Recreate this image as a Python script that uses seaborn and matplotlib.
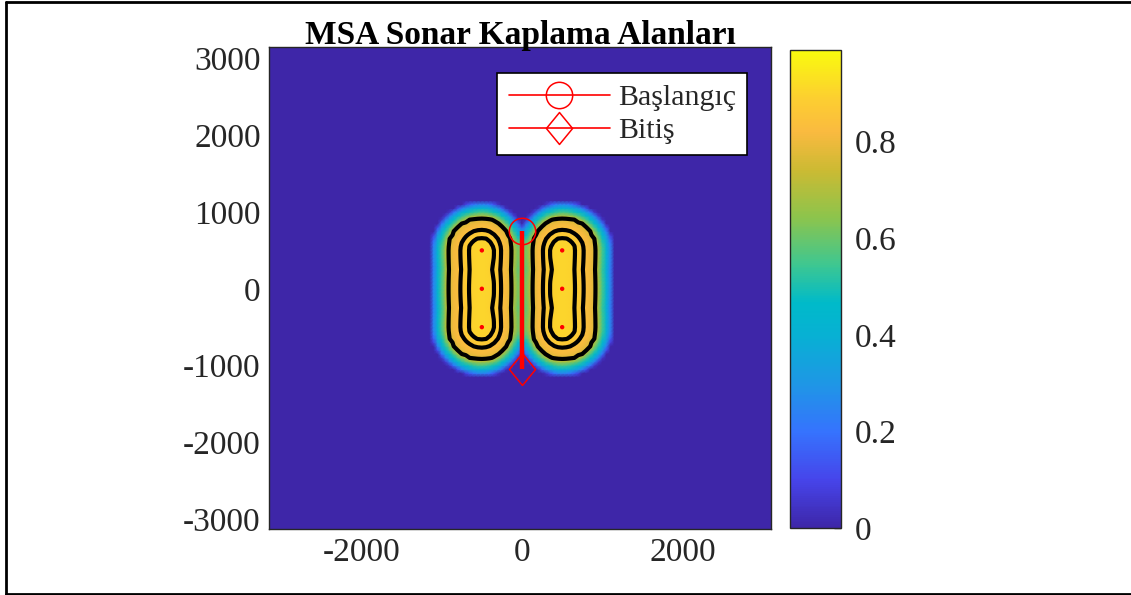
import numpy as np
import matplotlib
matplotlib.use("Agg")
import matplotlib.pyplot as plt
import seaborn as sns
from matplotlib.colors import LinearSegmentedColormap, Normalize
from matplotlib.lines import Line2D
from matplotlib.path import Path

# ---------------- data ----------------
sensor_x = [-500, -500, -500, 500, 500, 500]
sensor_y = [500, 0, -500, 500, 0, -500]
range_m = [0, 100, 170, 270, 350, 430, 470, 510, 550, 590, 620, 650]
detect_prob = [0.905, 0.90, 0.89, 0.85, 0.81, 0.75, 0.64, 0.52, 0.42, 0.30, 0.15, 0.0]
inner_side_scale = 1.12
path_x = [0, 0]
path_y = [750, -1050]
contour_levels = [0.75, 0.85, 0.89]
x_ticks = [-2000, 0, 2000]
y_ticks = [-3000, -2000, -1000, 0, 1000, 2000, 3000]
cbar_ticks = [0, 0.2, 0.4, 0.6, 0.8]
title_text = "MSA Sonar Kaplama Alanları"
legend_labels = ["Başlangıç", "Bitiş"]

# parula-like colormap anchors
parula_pos = [0.00, 0.10, 0.20, 0.30, 0.40, 0.47, 0.55, 0.65, 0.75, 0.83, 0.90, 1.00]
parula_rgb = [(0.2422, 0.1504, 0.6603), (0.2760, 0.2700, 0.9200), (0.2100, 0.4500, 0.9950),
              (0.1200, 0.5900, 0.9000), (0.0300, 0.6900, 0.8300), (0.0000, 0.7300, 0.7900),
              (0.2400, 0.7800, 0.5700), (0.5500, 0.7700, 0.3000), (0.8000, 0.7300, 0.2000),
              (0.9800, 0.7300, 0.2500), (0.9900, 0.8100, 0.1900), (0.9763, 0.9831, 0.0538)]
parula = LinearSegmentedColormap.from_list("parula", list(zip(parula_pos, parula_rgb)))

# ---------------- coverage field ----------------
gx = np.arange(-3200, 3201, 50.0)
gy = np.arange(-3200, 3201, 50.0)
X, Y = np.meshgrid(gx, gy)
sx = np.array(sensor_x, float)
sy = np.array(sensor_y, float)
miss = np.ones_like(X)
for cx in np.unique(sx):
    ys = sy[sx == cx]
    y0, y1 = ys.min(), ys.max()
    dx = X - cx
    dx = np.where(dx * cx < 0, dx * inner_side_scale, dx)
    dseg = np.hypot(dx, Y - np.clip(Y, y0, y1))
    dsen = np.min([np.hypot(dx, Y - yy) for yy in ys], axis=0)
    deff = 0.9 * dseg + 0.1 * dsen
    p = np.interp(deff, range_m, detect_prob)
    miss *= (1 - p)
Z = 1 - miss

# ---------------- figure ----------------
sns.set_theme(style="white")
plt.rcParams["font.family"] = ["Liberation Serif", "DejaVu Serif"]
W, H = 1131, 595
fig = plt.figure(figsize=(W / 100, H / 100), dpi=100)
fig.patch.set_facecolor("white")

ax = fig.add_axes([269 / W, 1 - 529 / H, (771 - 269) / W, (529 - 47) / H])
norm = Normalize(vmin=0, vmax=0.99)
mesh = ax.pcolormesh(X, Y, Z, cmap=parula, norm=norm, shading="gouraud", rasterized=True)
ax.contour(X, Y, Z, levels=contour_levels, colors="black", linewidths=3.0)

sns.scatterplot(x=sensor_x, y=sensor_y, ax=ax, color="red", s=10, edgecolor="none", zorder=5)
ax.plot(path_x, path_y, color="red", lw=3.2, zorder=6, solid_capstyle="butt")

diamond = Path([(0, 1), (0.82, 0), (0, -1), (-0.82, 0), (0, 1)],
               [Path.MOVETO, Path.LINETO, Path.LINETO, Path.LINETO, Path.CLOSEPOLY])
ax.plot([path_x[0]], [path_y[0]], color="red", lw=1.2, marker="o", markersize=19,
        markerfacecolor="none", markeredgewidth=1.1, label=legend_labels[0], zorder=7)
ax.plot([path_x[-1]], [path_y[-1]], color="red", lw=1.2, marker=diamond, markersize=23,
        markerfacecolor="none", markeredgewidth=1.1, label=legend_labels[1], zorder=7)

ax.set_xlim(-3150, 3100)
ax.set_ylim(-3130, 3150)
ax.set_xticks(x_ticks)
ax.set_yticks(y_ticks)
ax.set_xticklabels([str(v) for v in x_ticks])
ax.set_yticklabels([str(v) for v in y_ticks])
ax.tick_params(direction="in", length=5, width=1, colors="#262626", labelsize=24,
               labelcolor="#262626", top=True, right=True, pad=6)
for s in ax.spines.values():
    s.set_visible(True)
    s.set_color("#262626")
    s.set_linewidth(1.0)
ax.set_title(title_text, fontsize=24, fontweight="bold", color="black", pad=2)

leg = ax.legend(loc="upper right", bbox_to_anchor=(1 - 24 / 502, 1 - 26 / 482),
                borderaxespad=0, fontsize=21.5, frameon=True, fancybox=False,
                framealpha=1, edgecolor="black", handlelength=3.4, handletextpad=0.25,
                labelspacing=0.2, borderpad=0.38)
leg.get_frame().set_linewidth(1.2)

cax = fig.add_axes([790 / W, 1 - 528 / H, (841 - 790) / W, (528 - 50) / H])
cb = fig.colorbar(mesh, cax=cax, ticks=cbar_ticks)
cb.ax.set_yticklabels(["0", "0.2", "0.4", "0.6", "0.8"])
cb.ax.tick_params(direction="in", length=5, width=1, colors="#262626", labelsize=24,
                  labelcolor="#262626", pad=10)
cb.outline.set_edgecolor("#262626")
cb.outline.set_linewidth(1.0)

# figure border (left, top, bottom)
lw_b = 2.0
fig.add_artist(Line2D([5.5 / W, 5.5 / W], [1 - 1.5 / H, 1 - 593.5 / H], color="black", lw=lw_b,
                      transform=fig.transFigure))
fig.add_artist(Line2D([5.5 / W, 1], [1 - 1.5 / H, 1 - 1.5 / H], color="black", lw=lw_b,
                      transform=fig.transFigure))
fig.add_artist(Line2D([5.5 / W, 1], [1 - 593.5 / H, 1 - 593.5 / H], color="black", lw=lw_b,
                      transform=fig.transFigure))

fig.savefig("out.png", dpi=100)
